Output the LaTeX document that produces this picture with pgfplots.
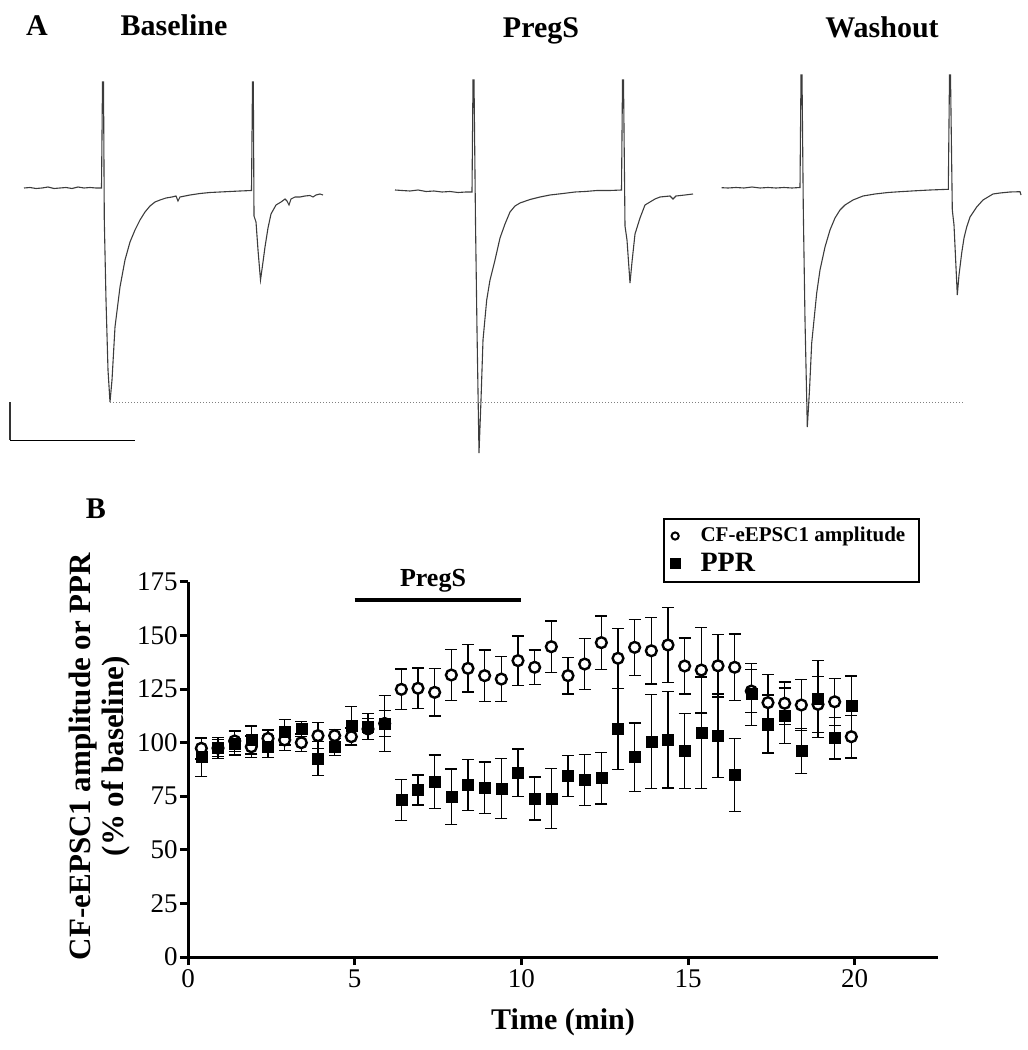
\documentclass[border=0pt]{standalone}
\usepackage{fontspec}
\setmainfont{Liberation Serif}
\usepackage{pgfplots}
\usepackage{pgfplotstable}
\pgfplotsset{compat=1.18}

\pgfplotstableread{
t c ce
0.4 97.4 5
0.9 97.5 4
1.4 100.8 5
1.9 98.1 5
2.4 102.0 4
2.9 101.3 5
3.4 100.0 4
3.9 103.3 6
4.4 103.3 3
4.9 102.8 4
5.4 106.4 5
5.9 109.0 13
6.4 124.9 9.5
6.9 125.4 9.5
7.4 123.5 11
7.9 131.6 12
8.4 134.7 11
8.9 131.3 12
9.4 129.7 10.5
9.9 138.3 11.5
10.4 135.2 8
10.9 144.8 12
11.4 131.3 8.5
11.9 136.7 12
12.4 146.7 12.5
12.9 139.4 14
13.4 144.5 13
13.9 142.9 15.5
14.4 145.6 17.5
14.9 135.8 13
15.4 133.9 20
15.9 135.9 14.5
16.4 135.2 15.5
16.9 124.1 10
17.4 118.7 13
17.9 118.4 10
18.4 117.6 12
18.9 117.9 13
19.4 119.1 11
19.9 102.8 10
}\amp

\pgfplotstableread{
t p pe
0.4 93.2 9
0.9 97.5 5
1.4 99.7 5.5
1.9 101.3 6.5
2.4 98.1 5
2.9 104.9 6
3.4 106.4 3.5
3.9 92.7 8
4.4 97.9 4
4.9 107.9 9
5.4 107.5 6
5.9 109.0 6
6.4 73.3 9.5
6.9 77.9 7
7.4 81.8 12.5
7.9 74.8 13
8.4 80.3 12
8.9 79.0 12
9.4 78.7 14
9.9 86.0 11
10.4 74.0 10
10.9 74.0 14
11.4 84.5 9.5
11.9 82.6 12
12.4 83.4 12
12.9 106.4 19
13.4 93.2 16
13.9 100.5 22
14.4 101.3 22.5
14.9 96.1 17.5
15.4 104.7 26
15.9 103.3 19.5
16.4 84.9 17
16.9 122.6 14.5
17.4 108.7 13.5
17.9 112.6 13
18.4 96.1 10.5
18.9 120.3 18
19.4 102.1 9.7
19.9 117.1 14
}\ppr

\definecolor{trace}{RGB}{60,60,60}

\begin{document}
\begin{tikzpicture}
\useasboundingbox (0,0) rectangle (514pt,525pt);

% ---------------- Panel A (pixel coordinates) ----------------
\begin{axis}[
  at={(0,0)}, anchor=south west,
  width=514pt, height=525pt, scale only axis,
  xmin=0, xmax=1028, ymin=0, ymax=1050, y dir=reverse,
  hide axis, clip=false,
]
% Baseline trace
\addplot[trace, line width=0.55pt] coordinates {
(24,188)(30,187.5)(36,188.5)(42,188)(48,187)(54,188.5)(60,188)(66,187.5)(72,188.5)(78,187)(84,188)(90,187.5)(96,188)(101.5,188)(102.5,82)(103.5,82)(104.3,220)(106,300)(108,370)(110,402)(112,380)(115,327)(120,287)(125,260)(130,242)(135,230)(140,220)(145,212)(150,206)(155,202)(160,200)(166,198)(172,197)(176,196)(178,201)(180,197)(190,195)(200,193.5)(210,192.5)(220,192)(230,191.5)(240,191)(251.5,190.5)(252.5,82)(253.3,82)(254,216)(256,222)(258,250)(260.5,280)(263,262)(265,247)(268,228)(271,214)(276,205)(281,202)(285,199)(287,201)(289,205)(291,199)(295,197)(300,197)(305,196)(310,195.5)(313,197)(316,195)(320,194)(323,195)
};
% PregS trace
\addplot[trace, line width=0.55pt] coordinates {
(395,190)(402,190.5)(410,191)(418,190)(426,191.5)(434,191)(442,192)(450,191.5)(458,192.5)(466,192)(472,192)(473,80)(474,80)(475.5,222)(477,330)(479,453)(481,400)(483,340)(486.7,300)(490,280)(495,260)(500,238)(505,224)(510,212)(515,206)(520,203)(530,199.5)(540,197)(550,195)(563,193.5)(575,192)(585,191.5)(597,190.5)(610,190.5)(621.5,190)(622.5,80)(623.5,80)(625,226)(627,240)(630,283)(632,262)(635,234)(640,218)(645,205)(650,202)(655,199)(660,197)(670,196)(673,199)(676,196)(685,195)(693,194)
};
% Washout trace
\addplot[trace, line width=0.55pt] coordinates {
(721.7,187.7)(728,188)(736,187.5)(744,188)(752,187)(760,188)(768,187.5)(776,188)(784,187.5)(792,188)(800,187.5)(801,75)(802,75)(803.3,210)(805,320)(807.3,427)(809.5,390)(811.7,343)(816.7,293)(820,270)(825,247)(830,230)(835,218)(840,210)(845,205)(853,200)(863,196)(875,194)(888,192.5)(900,191.7)(915,190.8)(930,190)(948.3,189.3)(949.5,75)(950.5,75)(952.3,210)(954,225)(957.3,295)(959,275)(961.7,253)(964,238)(966.7,227)(970,217)(976.7,207)(983,200)(993,194)(1000,193)(1010,192)(1020,191.7)(1021,195)
};
% reference dotted line
\addplot[gray, densely dotted, line width=0.5pt] coordinates {(110,402)(965,402)};
% scale bars
\addplot[black!80, line width=0.8pt] coordinates {(10,402)(10,440)};
\addplot[black, line width=0.8pt] coordinates {(10,440.5)(134.5,440.5)};
% labels
\node[anchor=base, font=\bfseries\fontsize{15}{16}\selectfont] at (axis cs:37,36) {A};
\node[anchor=base, font=\bfseries\fontsize{15}{16}\selectfont] at (axis cs:174,36) {Baseline};
\node[anchor=base, font=\bfseries\fontsize{15}{16}\selectfont] at (axis cs:541,38) {PregS};
\node[anchor=base, font=\bfseries\fontsize{15}{16}\selectfont] at (axis cs:882,38) {Washout};
\node[anchor=base, font=\bfseries\fontsize{15}{16}\selectfont] at (axis cs:96,518) {B};
\end{axis}

% ---------------- Panel B ----------------
\begin{axis}[
  at={(94pt,46.5pt)}, anchor=south west,
  width=375pt, height=187.5pt, scale only axis,
  xmin=0, xmax=22.5, ymin=0, ymax=175,
  axis x line*=bottom, axis y line*=left,
  axis line style={line width=1.5pt},
  xtick={0,5,10,15,20}, ytick={0,25,50,75,100,125,150,175},
  tick align=outside, major tick length=4pt,
  tick style={line width=1.5pt, black},
  minor tick num=0,
  /pgf/number format/assume math mode=true,
  tick label style={font=\fontsize{13.5}{13.5}\selectfont},
  yticklabel style={inner xsep=1pt},
  xticklabel style={inner ysep=2pt},
  xlabel={Time (min)},
  xlabel style={font=\bfseries\fontsize{15}{16}\selectfont, at={(axis description cs:0.5,-0.175)}, anchor=center},
  ylabel={CF-eEPSC1 amplitude or PPR\\(\% of baseline)},
  ylabel style={font=\bfseries\fontsize{15.5}{16.5}\selectfont, align=center, at={(axis description cs:-0.118,0.535)}, anchor=center},
  clip=false,
  legend style={at={(axis description cs:0.633,0.997)}, anchor=south west,
    draw=black, line width=1pt, inner xsep=3pt, inner ysep=2pt,
    row sep=0pt, cells={anchor=west}},
  legend cell align=left,
]
\addplot[only marks, mark=*, mark size=2.7pt,
  mark options={draw=black, fill=white, line width=1.2pt},
  error bars/.cd, y dir=both, y explicit,
  error bar style={line width=0.65pt, black},
  error mark options={rotate=90, line width=0.65pt, mark size=3pt, black},
  ] table[x=t, y=c, y error=ce] {\amp};
\addlegendimage{legend image code/.code={\draw[black, fill=white, line width=1pt] (0.3em,0) circle (1.8pt);}}
\addplot[only marks, mark=square*, mark size=2.75pt,
  mark options={draw=black, fill=black, line width=0.3pt},
  error bars/.cd, y dir=both, y explicit,
  error bar style={line width=0.65pt, black},
  error mark options={rotate=90, line width=0.65pt, mark size=3pt, black},
  ] table[x=t, y=p, y error=pe] {\ppr};
\addlegendimage{legend image code/.code={\fill[black] (0.3em-2.2pt,-2.2pt) rectangle (0.3em+2.2pt,2.2pt);}}
\legend{,\hspace*{8pt}\fontsize{10.5}{12}\selectfont\bfseries\makebox[104pt][l]{CF-eEPSC1 amplitude},,\hspace*{8pt}\fontsize{14}{15}\selectfont\bfseries PPR}
% PregS application bar
\addplot[black, line width=2pt, forget plot] coordinates {(5,166.5)(10,166.5)};
\node[anchor=base, font=\bfseries\fontsize{13}{14}\selectfont] at (axis cs:7.35,172.8) {PregS};
\end{axis}
\end{tikzpicture}
\end{document}
